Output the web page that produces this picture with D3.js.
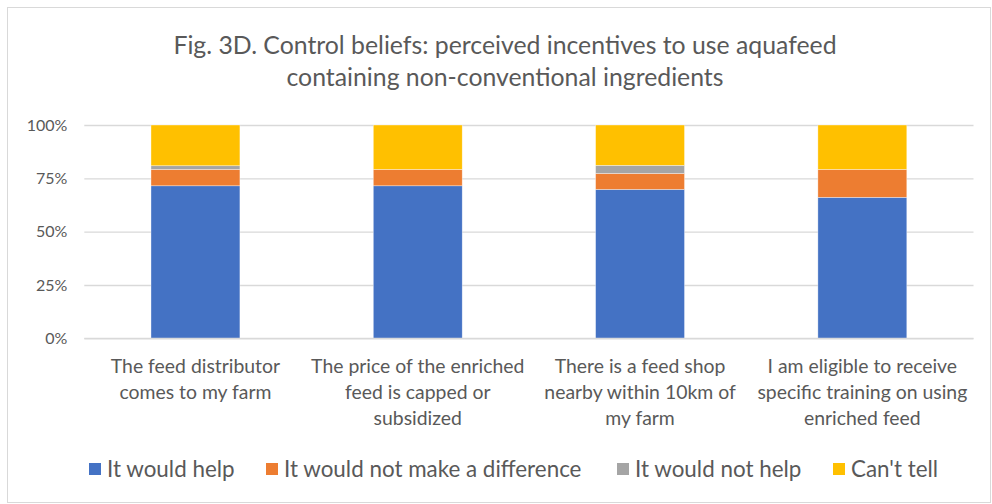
<!DOCTYPE html>
<html>
<head>
<meta charset="utf-8">
<script src="https://cdn.jsdelivr.net/npm/d3@7/dist/d3.min.js"></script>
<style>
  html, body { margin: 0; padding: 0; background: #fff; }
  svg { display: block; }
  text { font-family: Lato, "Open Sans", sans-serif; fill: #595959; }
</style>
</head>
<body>
<svg id="chart" width="992" height="504"></svg>
<script>
// Survey categories (each entry is the wrapped label lines)
const categories = [
  ["The feed distributor", "comes to my farm"],
  ["The price of the enriched", "feed is capped or", "subsidized"],
  ["There is a feed shop", "nearby within 10km of", "my farm"],
  ["I am eligible to receive", "specific training on using", "enriched feed"]
];

// Share of responses per category, in percent
const wouldHelp     = [71.5, 71.5, 69.8, 66.1];
const noDifference  = [7.7, 7.7, 7.5, 13.1];
const wouldNotHelp  = [1.7, 0.0, 3.8, 0.0];
const cantTell      = [19.1, 20.8, 18.9, 20.8];

const seriesNames  = ["It would help", "It would not make a difference", "It would not help", "Can't tell"];
const seriesColors = ["#4472C4", "#ED7D31", "#A5A5A5", "#FFC000"];
const tickValues   = [0, 25, 50, 75, 100];

const titleLines = [
  "Fig. 3D. Control beliefs: perceived incentives to use aquafeed",
  "containing non-conventional ingredients"
];

const svg = d3.select("#chart");
const W = 992, H = 504;

// chart area frame
svg.append("rect")
  .attr("x", 7.5).attr("y", 7.5)
  .attr("width", W - 9).attr("height", H - 9)
  .attr("fill", "#fff").attr("stroke", "#d9d9d9").attr("stroke-width", 1);

const plot = { left: 84.3, right: 973.5, top: 125, bottom: 338.3 };

const rows = categories.map((c, i) => ({
  key: i,
  s0: wouldHelp[i], s1: noDifference[i], s2: wouldNotHelp[i], s3: cantTell[i]
}));

const x = d3.scaleBand()
  .domain(rows.map(d => d.key))
  .range([plot.left, plot.right])
  .paddingInner(0.6)
  .paddingOuter(0.3);

const y = d3.scaleLinear()
  .domain([0, 100])
  .range([plot.bottom, plot.top]);

// gridlines and tick labels
const yAxis = d3.axisLeft(y)
  .tickValues(tickValues)
  .tickSize(-(plot.right - plot.left))
  .tickPadding(17)
  .tickFormat(d => d + "%");

const gy = svg.append("g")
  .attr("transform", `translate(${plot.left},0)`)
  .call(yAxis);
gy.select(".domain").remove();
gy.selectAll(".tick line").attr("stroke", "#d9d9d9").attr("stroke-width", 1.3);
gy.selectAll(".tick text")
  .style("font-size", "16px")
  .attr("fill", "#595959");

// stacked bars
const keys = ["s0", "s1", "s2", "s3"];
const stacked = d3.stack().keys(keys)(rows);

svg.append("g").selectAll("g")
  .data(stacked)
  .join("g")
  .attr("fill", (d, i) => seriesColors[i])
  .selectAll("rect")
  .data(d => d)
  .join("rect")
  .attr("x", d => x(d.data.key))
  .attr("width", x.bandwidth())
  .attr("y", d => y(d[1]))
  .attr("height", d => Math.max(0, y(d[0]) - y(d[1])))
  .attr("stroke", "#ffffff")
  .attr("stroke-opacity", 0.6)
  .attr("stroke-width", 0.6);

// baseline
svg.append("line")
  .attr("x1", plot.left).attr("x2", plot.right)
  .attr("y1", y(0)).attr("y2", y(0))
  .attr("stroke", "#d9d9d9").attr("stroke-width", 1.3);

// category labels
const catG = svg.append("g");
categories.forEach((lines, i) => {
  const cx = x(i) + x.bandwidth() / 2;
  lines.forEach((ln, j) => {
    catG.append("text")
      .attr("x", cx)
      .attr("y", 373 + j * 26)
      .attr("text-anchor", "middle")
      .style("font-size", "19.4px")
      .text(ln);
  });
});

// title
titleLines.forEach((t, j) => {
  svg.append("text")
    .attr("x", 505)
    .attr("y", 54 + j * 32)
    .attr("text-anchor", "middle")
    .style("font-size", "24.8px")
    .text(t);
});

// legend
const legendX = [89, 266, 617, 833];
const legend = svg.append("g");
seriesNames.forEach((name, i) => {
  legend.append("rect")
    .attr("x", legendX[i]).attr("y", 463)
    .attr("width", 12).attr("height", 12)
    .attr("fill", seriesColors[i]);
  legend.append("text")
    .attr("x", legendX[i] + 18)
    .attr("y", 476.5)
    .style("font-size", "22.4px")
    .text(name);
});
</script>
</body>
</html>
